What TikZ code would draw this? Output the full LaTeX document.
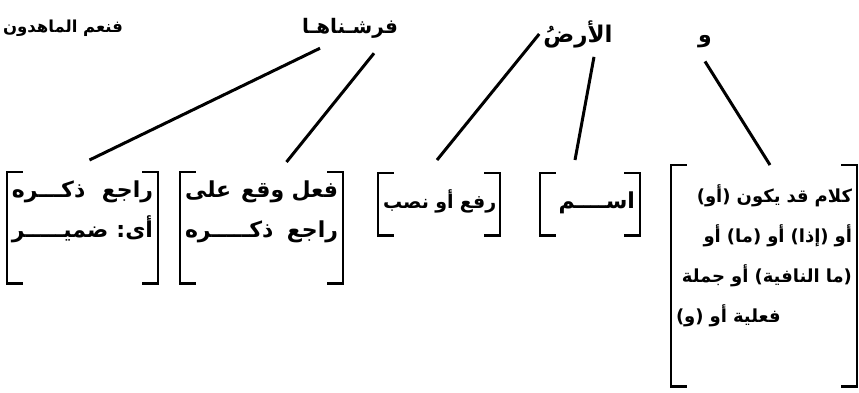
\documentclass[tikz,border=0pt]{standalone}
\usepackage{fontspec}
\newfontfamily\arabicfont[Script=Arabic]{DejaVu Sans}
\TeXXeTstate=1
\usetikzlibrary{positioning}

\newcommand\rl[1]{\beginR #1\endR}
% one line that is never broken
\newcommand\oline[1]{\mbox{\rl{#1}}}
% a line over the whole width: first words at the right, the rest at the left
\newcommand\jtwo[2]{\noindent\hbox to\hsize{\rl{#2}\hfill\rl{#1}}}
% a short line kept at the left
\newcommand\lline[1]{\noindent\hbox to\hsize{\rl{#1}\hfil}}
% square brackets round a box node
\newcommand\brackets[1]{%
  \draw[brk] (#1.north west) ++(16,0) -| (#1.south west) -- ++(16,0);
  \draw[brk] (#1.north east) ++(-16,0) -| (#1.south east) -- ++(-16,0);}

\begin{document}
\begin{tikzpicture}[
    x=1pt,y=-1pt,
    font=\arabicfont\bfseries\fontsize{22}{40}\selectfont,
    word/.style={inner sep=1pt},
    box/.style={anchor=north,inner xsep=5pt,inner ysep=4pt,align=right},
    brk/.style={line width=2.4pt},
    link/.style={line width=3pt}
  ]
    \useasboundingbox (0,0) rectangle (859,392);
    \node[word,font=\arabicfont\bfseries\fontsize{16.5}{40}\selectfont] (w1) at (63,28)
      {\rl{فنعم الماهدون}};
    \node[word,font=\arabicfont\bfseries\fontsize{20}{40}\selectfont] (w2) at (350,28)
      {\rl{فرشـناهـا}};
    \node[word,font=\arabicfont\bfseries\fontsize{23}{40}\selectfont] (w3) at (578,34)
      {\rl{الأرضُ}};
    \node[word] (w4) at (705,42) {\rl{و}};
    \node[box,text width=141pt,text height=21pt,text depth=82pt] (bA) at (82.5,172)
      {\jtwo{راجع}{ذكـــره}\\\jtwo{أى:}{ضميـــــر}};
    \node[box,text width=153pt,text height=21pt,text depth=82pt] (bB) at (261.5,172)
      {\jtwo{فعل وقع}{على}\\\jtwo{راجع}{ذكـــــره}};
    \node[box,text width=112pt,text height=31pt,text depth=23pt,
      font=\arabicfont\bfseries\fontsize{19}{40}\selectfont] (bC) at (439,173)
      {\oline{رفع أو نصب}};
    \node[box,text width=90pt,text height=31pt,text depth=23pt] (bD) at (590,173)
      {\oline{اســــم}};
    \node[box,text width=176pt,text height=33pt,text depth=180pt,
      font=\arabicfont\bfseries\fontsize{18}{40}\selectfont] (bE) at (764,165)
      {\oline{كلام قد يكون (أو)}\\\oline{أو (إذا) أو (ما) أو}\\
       \oline{(ما النافية) أو جملة}\\\lline{فعلية أو (و)}};
    \brackets{bA}
    \brackets{bB}
    \brackets{bC}
    \brackets{bD}
    \brackets{bE}
    \draw[link] ([xshift=-30pt,yshift=-9pt]w2.south) -- ([xshift=7pt,yshift=12pt]bA.north);
    \draw[link] ([xshift=24pt,yshift=-14pt]w2.south) -- ([xshift=25pt,yshift=10pt]bB.north);
    \draw[link] ([xshift=-3pt]w3.west) -- ([xshift=-2pt,yshift=13pt]bC.north);
    \draw[link] ([xshift=16pt,yshift=-8pt]w3.south) -- ([xshift=-15pt,yshift=13pt]bD.north);
    \draw[link] ([yshift=-12pt]w4.south) -- ([xshift=6pt]bE.north);
  \end{tikzpicture}
\end{document}
